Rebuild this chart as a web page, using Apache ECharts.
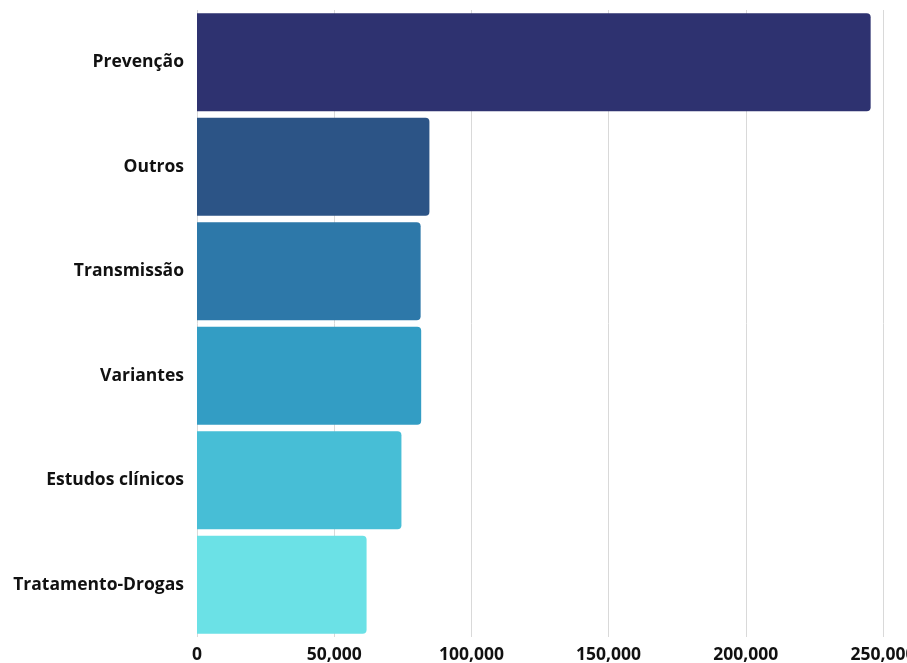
<!DOCTYPE html>
<html>
<head>
<meta charset="utf-8">
<script src="https://cdn.jsdelivr.net/npm/echarts@6/dist/echarts.min.js"></script>
<style>
  html, body { margin: 0; padding: 0; background: #fff; }
  #chart { width: 907px; height: 663px; }
</style>
</head>
<body>
<div id="chart"></div>
<script>
// categories, top to bottom as shown
const categories = ['Prevenção', 'Outros', 'Transmissão', 'Variantes', 'Estudos clínicos', 'Tratamento-Drogas'];
const values = [245500, 84700, 81500, 81700, 74500, 61800];
const barColors = ['#2e3270', '#2c5486', '#2d78a9', '#339dc4', '#47bed6', '#6be1e6'];
const xTicks = [0, 50000, 100000, 150000, 200000, 250000];

const chart = echarts.init(document.getElementById('chart'));

const option = {
  animation: false,
  grid: {
    left: 197,
    right: 24,
    top: 10,
    bottom: 26,
    containLabel: false,
    outerBoundsMode: 'none'
  },
  xAxis: {
    type: 'value',
    min: xTicks[0],
    max: xTicks[xTicks.length - 1],
    interval: 50000,
    axisLine: { show: false },
    axisTick: { show: false },
    splitLine: { lineStyle: { color: '#d9d9d9', width: 1 } },
    axisLabel: {
      margin: 9,
      color: '#111',
      fontFamily: 'Open Sans',
      fontWeight: 'bold',
      fontSize: 17.5,
      hideOverlap: false,
      formatter: function (v) { return v.toLocaleString('en-US'); }
    }
  },
  yAxis: {
    type: 'category',
    inverse: true,
    data: categories,
    axisLine: { show: false },
    axisTick: { show: false },
    axisLabel: {
      margin: 13,
      color: '#111',
      fontFamily: 'Open Sans',
      fontWeight: 'bold',
      fontSize: 17.5
    }
  },
  series: [{
    type: 'bar',
    barCategoryGap: '6%',
    data: values.map(function (v, i) {
      return { value: v, itemStyle: { color: barColors[i] } };
    }),
    itemStyle: { borderRadius: [0, 4, 4, 0] }
  }]
};

chart.setOption(option);
</script>
</body>
</html>
